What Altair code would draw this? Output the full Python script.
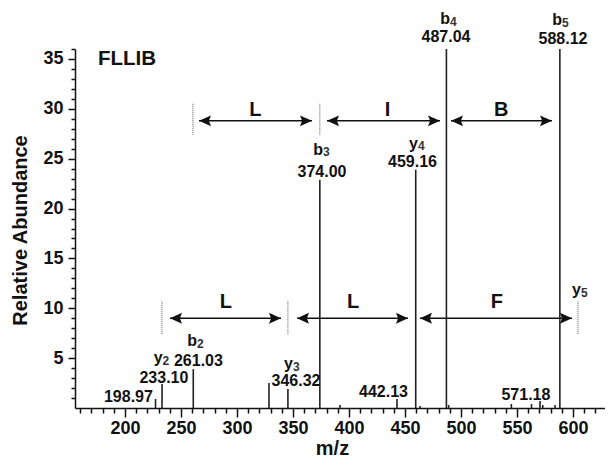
import altair as alt
import pandas as pd

# ---- data ----
peak_mz = [227.3, 233.1, 261.0, 328.6, 345.5, 374.0, 392.0, 442.9, 459.6, 463.4,
           487.0, 489.0, 545.0, 563.0, 570.6, 573.0, 584.0, 588.3]
peak_int = [0.9, 2.4, 3.9, 2.5, 1.9, 22.9, 0.3, 0.9, 23.9, 0.2,
            36.0, 0.3, 0.4, 0.4, 0.7, 0.3, 0.3, 36.0]

# m/z value labels
label_text = ["487.04", "588.12", "374.00", "459.16", "261.03", "233.10",
              "346.32", "198.97", "442.13", "571.18"]
label_mz = [486.6, 591.1, 375.9, 456.7, 265.6, 234.8, 352.7, 203.1, 430.8, 558.0]
label_y = [37.2, 37.0, 23.7, 24.7, 4.7, 3.0, 2.7, 1.15, 1.65, 1.3]

# ion names (letter + subscript)
ion_letter = ["b", "b", "b", "y", "b", "y", "y", "y"]
ion_sub = ["4", "5", "3", "4", "2", "2", "3", "5"]
ion_mz = [490.2, 590.2, 376.8, 461.6, 264.3, 233.6, 350.0, 607.1]
ion_y = [39.0, 38.9, 25.9, 26.5, 6.7, 5.0, 4.4, 11.8]

arrow_start = [266.1, 380.4, 491.1, 240.2, 353.6, 463.4]
arrow_end = [367.0, 481.3, 581.3, 339.3, 452.7, 599.1]
arrow_y = [28.8, 28.8, 28.8, 9.0, 9.0, 9.0]
arrow_res = ["L", "I", "B", "L", "L", "F"]
arrow_label_mz = [316.5, 434.5, 536.0, 290.0, 403.6, 532.0]
arrow_label_y = [29.9, 29.9, 29.9, 10.6, 10.6, 10.6]

dot_x = [260.7, 374.0, 233.0, 345.5, 604.5]
dot_y1 = [27.4, 27.4, 7.4, 7.4, 7.4]
dot_y2 = [30.6, 30.6, 10.7, 10.7, 10.7]

title_text = ["FLLIB"]
title_mz = [175.9]
title_y = [35.0]

x_ticks = list(range(160, 630, 10))
y_ticks = list(range(1, 37))

FONT = "Liberation Sans"

peaks = pd.DataFrame({"mz": peak_mz, "ab": peak_int})
labels = pd.DataFrame({"t": label_text, "mz": label_mz, "y": label_y})
ions = pd.DataFrame({"l": ion_letter, "s": ion_sub, "mz": ion_mz, "y": ion_y})
arrows = pd.DataFrame({"s": arrow_start, "e": arrow_end, "y": arrow_y,
                       "r": arrow_res, "lx": arrow_label_mz, "ly": arrow_label_y})
dots = pd.DataFrame({"x": dot_x, "y1": dot_y1, "y2": dot_y2})
ttl = pd.DataFrame({"t": title_text, "mz": title_mz, "y": title_y})

xs = alt.Scale(domain=[155.4, 628.6], nice=False, zero=False)
ys = alt.Scale(domain=[0, 36], nice=False)

x_axis = alt.Axis(
    title="m/z", values=x_ticks,
    labelExpr="datum.value % 50 === 0 ? datum.label : ''",
    tickSize={"condition": {"test": "datum.value % 50 === 0", "value": 9}, "value": 5},
    labelPadding=2, labelFont=FONT, labelFontSize=18, labelFontWeight="bold",
    labelColor="#111", titleFont=FONT, titleFontSize=20, titleFontWeight="bold",
    titleColor="#111", titleX=257, titleY=40, titleBaseline="middle",
    domainColor="#111", domainWidth=1.5, tickColor="#111", tickWidth=1.5,
    grid=False, labelFlush=False, labelOverlap=False,
)
y_axis = alt.Axis(
    title="Relative Abundance", values=y_ticks,
    labelExpr="datum.value % 5 === 0 ? datum.label : ''",
    tickSize={"condition": {"test": "datum.value % 5 === 0", "value": 7}, "value": 4},
    labelPadding=5, labelFont=FONT, labelFontSize=18, labelFontWeight="bold",
    labelColor="#111", titleFont=FONT, titleFontSize=20, titleFontWeight="bold",
    titleColor="#111", titleX=-55, titleY=181, titleAngle=270,
    titleBaseline="middle", titleAlign="center",
    domainColor="#111", domainWidth=1.5, tickColor="#111", tickWidth=1.5,
    grid=False, labelFlush=False, labelOverlap=False,
)


def X(field):
    return alt.X(field, type="quantitative", scale=xs, axis=x_axis)


def Y(field):
    return alt.Y(field, type="quantitative", scale=ys, axis=y_axis)


peak_layer = alt.Chart(peaks).mark_rule(color="#222", strokeWidth=1.6).encode(
    x=X("mz"), y=Y("ab"), y2=alt.Y2(datum=0),
)

label_layer = alt.Chart(labels).mark_text(
    font=FONT, fontSize=16, fontWeight="bold", color="#111", baseline="middle"
).encode(x=X("mz"), y=Y("y"), text="t:N")

ion_layer = alt.Chart(ions).mark_text(
    font=FONT, fontSize=16, fontWeight="bold", color="#111", baseline="middle",
    align="right", dx=0
).encode(x=X("mz"), y=Y("y"), text="l:N")
sub_layer = alt.Chart(ions).mark_text(
    font=FONT, fontSize=12, fontWeight="bold", color="#333", baseline="middle",
    align="left", dx=0, dy=2.5
).encode(x=X("mz"), y=Y("y"), text="s:N")

title_layer = alt.Chart(ttl).mark_text(
    font=FONT, fontSize=20.5, fontWeight="bold", color="#111", baseline="middle", align="left"
).encode(x=X("mz"), y=Y("y"), text="t:N")

shaft = alt.Chart(arrows).mark_rule(color="#111", strokeWidth=1.6).encode(
    x=X("s"), x2="e:Q", y=Y("y")
)
left_head = alt.Chart(arrows).mark_point(
    shape="M0,0L2,-0.9L1.65,0L2,0.9Z", filled=True, size=144, color="#111", opacity=1
).encode(x=X("s"), y=Y("y"))
right_head = alt.Chart(arrows).mark_point(
    shape="M0,0L-2,-0.9L-1.65,0L-2,0.9Z", filled=True, size=144, color="#111", opacity=1
).encode(x=X("e"), y=Y("y"))
arrow_text = alt.Chart(arrows).mark_text(
    font=FONT, fontSize=20, fontWeight="bold", color="#111", baseline="middle"
).encode(x=X("lx"), y=Y("ly"), text="r:N")

dot_layer = alt.Chart(dots).mark_rule(color="#555", strokeWidth=1, strokeDash=[1, 1]).encode(
    x=X("x"), y=Y("y1"), y2="y2:Q"
)

chart = alt.layer(
    peak_layer, dot_layer, shaft, left_head, right_head, arrow_text,
    label_layer, ion_layer, sub_layer, title_layer
).properties(
    width=530, height=359,
    padding={"left": 67, "top": 41, "right": 0, "bottom": 49},
    autosize=alt.AutoSizeParams(type="none"),
).configure_view(stroke=None)

chart.save("out.html", embed_options={"renderer": "svg", "actions": False})
